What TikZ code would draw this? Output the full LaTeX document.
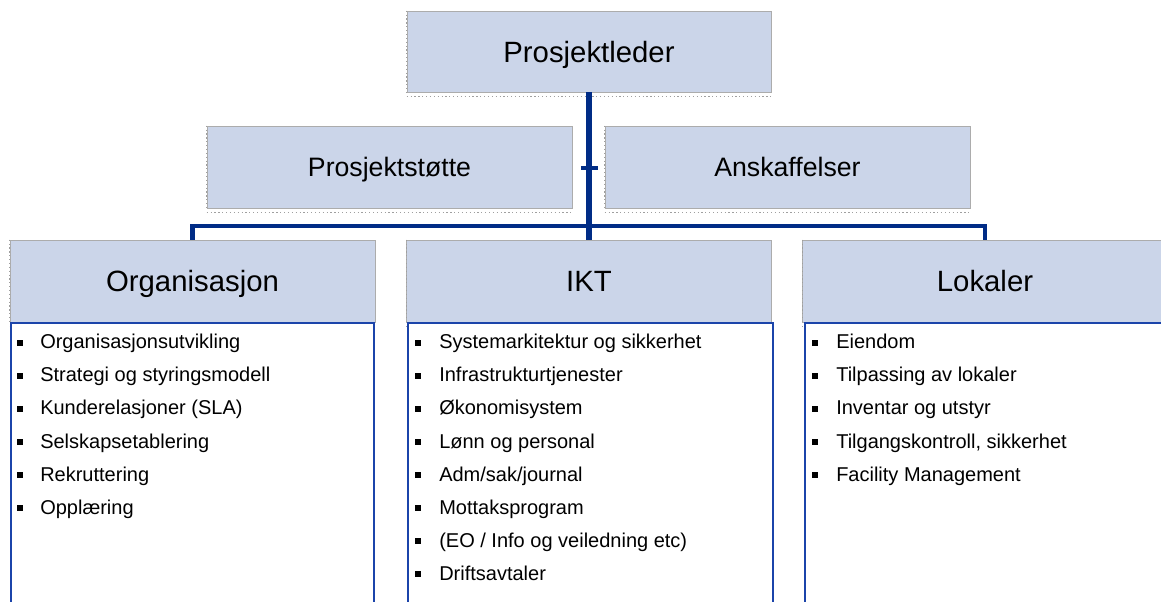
\documentclass[tikz,border=0pt]{standalone}
\usepackage{fontspec}
\setmainfont{Liberation Sans}
\definecolor{hdrfill}{HTML}{CBD5E9}
\definecolor{conncol}{HTML}{002C86}
\definecolor{bodycol}{HTML}{1B44AA}
\begin{document}
\begin{tikzpicture}[x=0.75pt,y=-0.75pt,
  hdrbox/.style={fill=hdrfill, draw=gray!65, line width=0.4pt, inner sep=0pt,
    text depth=0pt, minimum width=273.75pt, minimum height=61.5pt},
  bigtxt/.style={font=\fontsize{22}{26}\selectfont, text height=15.8pt},
  midtxt/.style={font=\fontsize{20}{24}\selectfont, text height=14.3pt},
  bodybox/.style={draw=bodycol, line width=1.5pt, fill=white},
  conn/.style={draw=conncol, line width=3.2pt},
  trunk/.style={draw=conncol, line width=4.2pt},
  shadowdots/.style={draw=gray!75, line width=0.9pt, dotted},
  itemtxt/.style={anchor=base west, inner sep=0pt, font=\fontsize{15}{18}\selectfont},
  bul/.style={fill=black, inner sep=0pt, minimum size=3.8pt}
]
\useasboundingbox (0,0) rectangle (1161,602);
\clip (0,0) rectangle (1161,602);

% headers
\node[hdrbox, bigtxt, minimum width=273pt, minimum height=60.75pt] (pl) at (589,51.5) {Prosjektleder};
\node[hdrbox, midtxt] (ps) at (389.5,167) {Prosjektstøtte};
\node[hdrbox, midtxt] (an) at (787.5,167) {Anskaffelser};
\node[hdrbox, bigtxt] (org) at (192.5,281) {Organisasjon};
\node[hdrbox, bigtxt] (ikt) at (589,281) {IKT};
\node[hdrbox, bigtxt] (lok) at (985,281) {Lokaler};

% shadow dots
\foreach \n in {pl,ps,an,org,ikt,lok}{
  \draw[shadowdots] ([yshift=-3pt]\n.south west) -- ([yshift=-3pt]\n.south east);
  \draw[shadowdots] (\n.north west) -- (\n.south west);
}

% body boxes
\node[bodybox, anchor=north west, minimum width=272.25pt, minimum height=225pt, inner sep=0pt] (orgb) at (10,322) {};
\node[bodybox, anchor=north west, minimum width=273.75pt, minimum height=225pt, inner sep=0pt] (iktb) at (407,322) {};
\node[bodybox, anchor=north west, minimum width=273.75pt, minimum height=225pt, inner sep=0pt] (lokb) at (804,322) {};

% connectors
\coordinate (bar) at (589,226);
\coordinate (tickl) at (581,168);
\coordinate (tickr) at (598,168);
\draw[trunk] (pl.south) -- (ikt.north);
\draw[conn] (org.north) -- (org.north |- bar) -- (lok.north |- bar) -- (lok.north);
\draw[conn] (tickl) -- (tickr);

% items
\foreach \t [count=\i] in {Organisasjonsutvikling, Strategi og styringsmodell, Kunderelasjoner (SLA), Selskapsetablering, Rekruttering, Opplæring}{
  \node[bul] (ob\i) at (20,{343+33*(\i-1)}) {};
  \node[itemtxt] (ot\i) at (40,{349+33*(\i-1)}) {\t};
}
\foreach \t [count=\i] in {Systemarkitektur og sikkerhet, Infrastrukturtjenester, Økonomisystem, Lønn og personal, Adm/sak/journal, Mottaksprogram, (EO / Info og veiledning etc), Driftsavtaler}{
  \node[bul] (ib\i) at (418,{343+33*(\i-1)}) {};
  \node[itemtxt] (it\i) at (439,{349+33*(\i-1)}) {\t};
}
\foreach \t [count=\i] in {Eiendom, Tilpassing av lokaler, Inventar og utstyr, {Tilgangskontroll, sikkerhet}, Facility Management}{
  \node[bul] (lb\i) at (815,{343+33*(\i-1)}) {};
  \node[itemtxt] (lt\i) at (836,{349+33*(\i-1)}) {\t};
}
\end{tikzpicture}
\end{document}
